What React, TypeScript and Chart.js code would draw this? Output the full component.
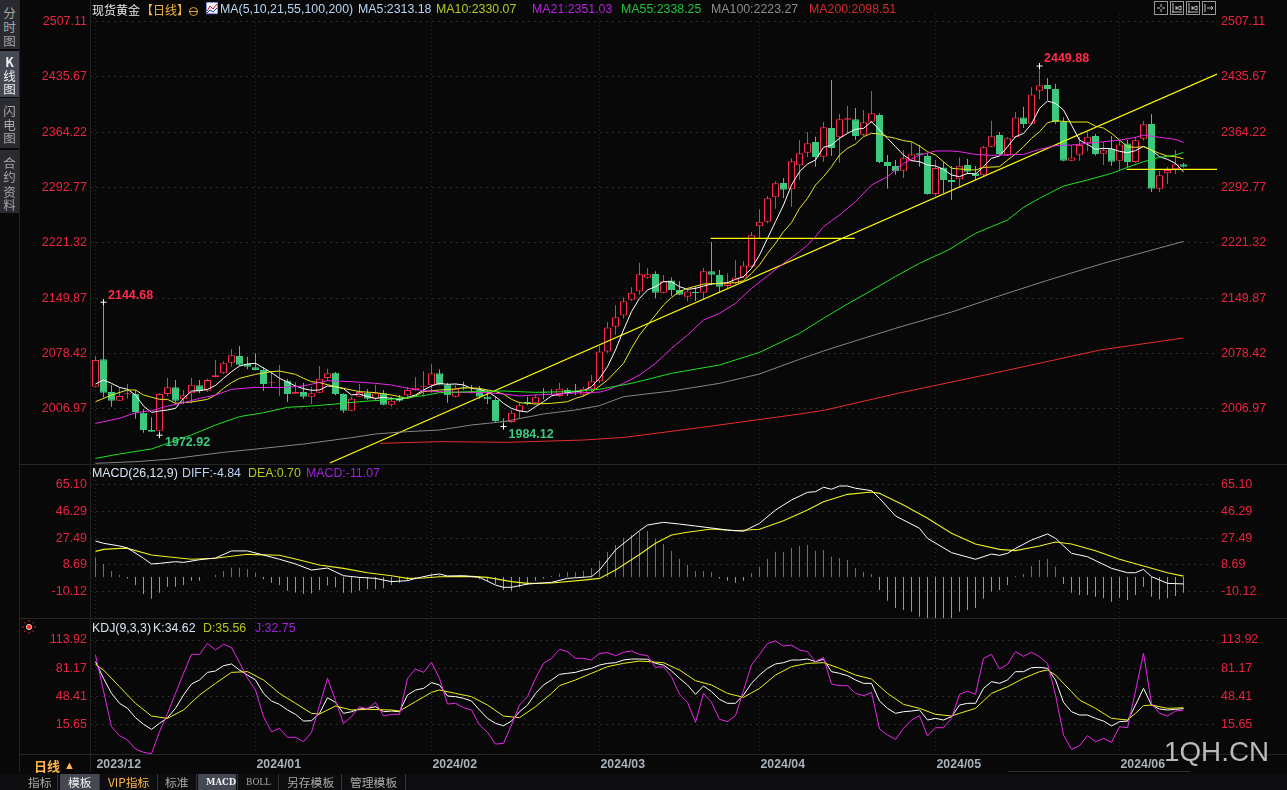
import React, { useEffect, useRef } from "react";
import { Chart, registerables } from "chart.js";

Chart.register(...registerables);

const LATIN = '"Liberation Sans", Arial, sans-serif';
const CJK = '"Noto Sans CJK SC", "Liberation Sans", sans-serif';
const RED = "#ff2b4b";
const GREEN = "#3cc87e";
const AXIS_RED = "#e8243f";
const BG = "#080808";

const monthDays = [0, 20, 42, 63, 83, 105, 128];
const monthLabels = ["2023/12", "2024/01", "2024/02", "2024/03", "2024/04", "2024/05", "2024/06"];
const priceTicks = [2507.11, 2435.67, 2364.22, 2292.77, 2221.32, 2149.87, 2078.42, 2006.97];
const macdTicks = [65.1, 46.29, 27.49, 8.69, -10.12];
const kdjTicks = [113.92, 81.17, 48.41, 15.65];

const open = [
  2035.6, 2070.9, 2028.7, 2017.5, 2026.1, 2026.1, 2002.0, 1979.6, 1978.8, 2026.1,
  2034.7, 2019.2, 2027.0, 2037.3, 2030.4, 2047.7, 2052.8, 2066.6, 2075.2, 2064.9,
  2060.6, 2057.1, 2040.8, 2042.5, 2043.4, 2026.6, 2028.7, 2022.7, 2027.9, 2046.8,
  2053.7, 2026.1, 2004.6, 2022.7, 2027.9, 2020.1, 2027.0, 2012.4, 2020.1, 2024.4,
  2031.3, 2035.6, 2037.3, 2052.8, 2038.2, 2022.7, 2034.3, 2033.0, 2031.3, 2022.7,
  2018.4, 1991.3, 1990.0, 2003.7, 2015.8, 2014.1, 2028.7, 2027.9, 2023.6, 2031.3,
  2030.4, 2025.3, 2032.2, 2042.5, 2081.2, 2113.1, 2127.7, 2148.0, 2158.7, 2176.4,
  2181.1, 2157.0, 2172.9, 2160.5, 2151.9, 2157.9, 2157.0, 2184.6, 2179.9, 2165.6,
  2169.1, 2176.8, 2190.6, 2242.7, 2248.8, 2280.2, 2298.7, 2290.5, 2321.5, 2337.9,
  2351.7, 2332.7, 2369.8, 2357.7, 2380.5, 2381.0, 2361.2, 2377.9, 2386.6, 2325.9,
  2320.7, 2314.7, 2327.6, 2337.0, 2333.6, 2284.5, 2318.9, 2302.6, 2303.5, 2322.0,
  2311.2, 2308.6, 2345.6, 2360.7, 2334.9, 2357.7, 2383.5, 2375.3, 2418.0, 2425.3,
  2420.1, 2377.5, 2327.5, 2335.3, 2350.8, 2359.4, 2336.6, 2343.0, 2327.5, 2349.9,
  2325.8, 2356.0, 2374.9, 2291.4, 2311.2, 2316.4, 2322.8,
];
const close = [
  2070.1, 2027.9, 2017.5, 2023.5, 2027.0, 2002.9, 1979.6, 1977.5, 2026.1, 2034.7,
  2017.5, 2024.4, 2038.2, 2029.6, 2044.2, 2050.2, 2065.8, 2076.1, 2064.0, 2061.4,
  2057.1, 2039.1, 2041.6, 2043.4, 2026.1, 2028.7, 2022.7, 2027.0, 2045.9, 2052.8,
  2026.1, 2004.6, 2020.1, 2028.7, 2020.1, 2027.0, 2012.4, 2017.5, 2017.5, 2031.3,
  2034.3, 2036.9, 2052.8, 2038.2, 2024.4, 2033.0, 2033.0, 2032.2, 2022.7, 2019.2,
  1991.3, 1990.4, 2002.0, 2011.5, 2014.1, 2021.8, 2027.9, 2027.0, 2033.0, 2027.9,
  2028.7, 2033.0, 2042.5, 2081.2, 2112.2, 2125.2, 2145.8, 2157.0, 2180.7, 2180.7,
  2157.0, 2171.7, 2160.5, 2154.4, 2158.7, 2156.2, 2184.6, 2180.3, 2164.8, 2169.1,
  2176.8, 2192.3, 2231.1, 2248.8, 2278.9, 2298.3, 2290.1, 2326.7, 2337.0, 2350.0,
  2332.3, 2370.6, 2343.9, 2381.0, 2382.3, 2359.4, 2377.1, 2388.7, 2325.9, 2320.7,
  2313.8, 2330.6, 2335.8, 2335.3, 2284.5, 2318.1, 2302.6, 2300.0, 2321.1, 2313.4,
  2307.8, 2344.8, 2359.0, 2336.1, 2356.4, 2383.5, 2374.9, 2413.2, 2424.9, 2420.1,
  2377.5, 2327.5, 2331.8, 2347.8, 2358.5, 2336.1, 2340.9, 2326.2, 2348.6, 2325.8,
  2353.8, 2374.5, 2291.4, 2308.6, 2315.5, 2322.8, 2319.8,
];
const high = [
  2075.2, 2144.68, 2037.8, 2034.7, 2039.1, 2031.3, 2006.3, 1996.0, 2027.0, 2046.8,
  2044.2, 2031.3, 2046.8, 2044.2, 2045.9, 2070.1, 2068.3, 2083.8, 2088.1, 2074.4,
  2078.7, 2060.6, 2055.0, 2063.6, 2045.9, 2041.6, 2040.8, 2035.6, 2062.3, 2058.9,
  2054.6, 2027.0, 2022.7, 2039.1, 2032.2, 2037.8, 2031.3, 2022.7, 2024.9, 2035.6,
  2047.7, 2055.4, 2064.9, 2058.0, 2040.8, 2037.8, 2042.1, 2037.8, 2036.5, 2031.3,
  2022.7, 1994.7, 2005.5, 2016.2, 2022.7, 2024.9, 2033.5, 2032.2, 2040.8, 2033.5,
  2039.1, 2035.6, 2050.7, 2088.1, 2119.1, 2140.7, 2151.0, 2163.9, 2195.8, 2188.9,
  2184.6, 2179.9, 2176.8, 2171.7, 2162.6, 2164.8, 2188.9, 2222.5, 2186.3, 2182.0,
  2199.2, 2197.5, 2235.4, 2264.7, 2281.9, 2300.9, 2305.2, 2330.6, 2354.3, 2364.6,
  2358.6, 2377.5, 2431.8, 2387.9, 2398.2, 2395.6, 2393.0, 2417.6, 2388.7, 2334.9,
  2328.4, 2341.4, 2351.7, 2347.8, 2337.0, 2328.4, 2326.3, 2320.7, 2331.9, 2330.2,
  2320.7, 2346.5, 2379.2, 2364.6, 2357.7, 2390.4, 2397.3, 2422.3, 2449.88, 2434.3,
  2426.6, 2383.5, 2347.4, 2358.5, 2364.6, 2362.0, 2351.7, 2359.4, 2354.2, 2354.2,
  2358.5, 2378.8, 2387.8, 2314.6, 2319.8, 2341.3, 2324.9,
];
const low = [
  2034.7, 2021.8, 2009.8, 2017.5, 2020.1, 1994.3, 1976.2, 1977.5, 1972.92, 2023.5,
  2014.9, 2013.2, 2014.1, 2027.0, 2028.7, 2047.7, 2052.0, 2061.4, 2062.3, 2058.0,
  2057.1, 2030.4, 2035.6, 2023.5, 2015.8, 2026.1, 2020.1, 2013.2, 2027.0, 2043.4,
  2024.4, 2002.0, 2003.7, 2021.8, 2018.4, 2018.4, 2011.5, 2009.8, 2015.8, 2020.1,
  2030.4, 2022.7, 2027.9, 2037.3, 2014.9, 2021.8, 2031.3, 2027.0, 2020.1, 2013.2,
  1989.1, 1984.12, 1989.1, 1995.1, 2011.5, 2013.2, 2019.2, 2024.9, 2022.7, 2023.6,
  2024.9, 2022.7, 2027.0, 2039.9, 2079.5, 2102.3, 2123.4, 2146.7, 2154.4, 2175.1,
  2150.1, 2156.2, 2152.7, 2153.6, 2145.8, 2146.3, 2148.4, 2166.5, 2157.0, 2163.1,
  2168.2, 2176.0, 2189.8, 2227.2, 2246.6, 2265.6, 2279.3, 2268.2, 2302.6, 2331.9,
  2319.8, 2326.3, 2333.6, 2325.0, 2362.9, 2354.3, 2359.4, 2376.7, 2324.1, 2291.4,
  2309.5, 2305.2, 2326.7, 2319.8, 2283.7, 2281.9, 2285.4, 2276.8, 2293.1, 2310.4,
  2302.6, 2307.7, 2344.8, 2333.6, 2333.6, 2356.8, 2369.7, 2374.9, 2406.8, 2405.9,
  2374.9, 2326.7, 2326.7, 2327.5, 2339.6, 2334.4, 2322.0, 2320.6, 2315.5, 2318.9,
  2325.0, 2353.4, 2287.1, 2287.1, 2297.4, 2310.3, 2318.9,
];

const ma5 = [
  2039.1, 2044.2, 2039.9, 2034.7, 2032.2, 2024.8, 2010.6, 2002.4, 2004.2, 2005.5,
  2007.6, 2020.5, 2030.0, 2030.4, 2032.2, 2037.3, 2046.4, 2055.0, 2062.3, 2064.9,
  2065.8, 2059.7, 2053.7, 2046.4, 2041.6, 2036.5, 2033.0, 2030.9, 2031.3, 2036.5,
  2035.6, 2033.0, 2024.9, 2026.1, 2022.7, 2020.5, 2021.8, 2020.5, 2019.3, 2021.8,
  2024.9, 2031.3, 2036.5, 2039.9, 2038.6, 2039.1, 2037.8, 2033.5, 2032.2, 2029.2,
  2022.7, 2014.1, 2007.6, 2004.2, 2002.9, 2009.8, 2016.2, 2023.6, 2026.1, 2027.9,
  2029.2, 2030.4, 2035.6, 2046.4, 2061.4, 2083.0, 2108.8, 2132.5, 2149.7, 2160.5,
  2164.8, 2171.2, 2171.2, 2164.8, 2161.3, 2162.6, 2165.6, 2168.2, 2169.1, 2169.9,
  2174.2, 2177.7, 2188.5, 2205.7, 2227.2, 2248.8, 2270.3, 2296.1, 2313.4, 2323.3,
  2328.4, 2344.8, 2347.8, 2356.4, 2362.9, 2368.1, 2369.3, 2378.0, 2367.2, 2356.4,
  2345.7, 2334.9, 2327.6, 2326.3, 2322.0, 2320.7, 2316.4, 2309.1, 2306.9, 2311.2,
  2310.3, 2319.8, 2330.6, 2333.6, 2345.6, 2358.5, 2362.8, 2374.9, 2395.1, 2404.6,
  2401.6, 2393.0, 2373.6, 2354.2, 2348.6, 2342.2, 2343.5, 2343.0, 2339.6, 2337.9,
  2340.5, 2346.1, 2341.3, 2332.7, 2329.3, 2324.1, 2313.18,
];

const ma10 = [
  [0, 2016.2], [2, 2024.8], [4, 2031.3], [5, 2031.3], [6, 2024.8], [8, 2019.2], [9, 2019.2], [10, 2014.1],
  [12, 2015.8], [14, 2019.2], [15, 2024.8], [16, 2033.5], [17, 2040.8], [18, 2046.4], [20, 2051.5], [22, 2055.0],
  [23, 2055.8], [24, 2053.7], [25, 2051.5], [26, 2046.4], [27, 2042.1], [28, 2040.8], [30, 2035.6], [31, 2033.5],
  [33, 2029.2], [35, 2027.9], [37, 2024.9], [39, 2020.5], [40, 2023.6], [41, 2029.2], [43, 2031.3], [45, 2032.6],
  [46, 2034.3], [48, 2033.5], [50, 2029.2], [51, 2026.1], [52, 2019.3], [53, 2014.9], [55, 2013.2], [57, 2014.1],
  [59, 2016.2], [60, 2020.5], [61, 2023.6], [62, 2028.5], [64, 2044.2], [66, 2065.7], [67, 2085.1], [68, 2102.3],
  [70, 2128.2], [71, 2141.1], [72, 2151.0], [73, 2158.3], [74, 2162.6], [76, 2168.2], [78, 2169.1], [80, 2169.9],
  [81, 2172.5], [82, 2182.0], [83, 2192.8], [84, 2207.8], [85, 2220.8], [86, 2235.8], [87, 2247.5], [88, 2266.0],
  [89, 2278.9], [90, 2296.1], [91, 2306.9], [92, 2319.8], [93, 2334.9], [94, 2343.5], [95, 2349.1], [96, 2358.6],
  [97, 2362.9], [98, 2362.0], [99, 2358.6], [100, 2356.4], [101, 2353.4], [102, 2352.1], [103, 2346.5], [104, 2339.2],
  [105, 2334.9], [106, 2326.3], [107, 2317.7], [108, 2316.8], [110, 2315.5], [111, 2318.9], [113, 2319.8], [114, 2328.4],
  [115, 2336.2], [116, 2345.6], [117, 2356.4], [118, 2365.0], [119, 2376.6], [120, 2379.2], [122, 2377.5], [124, 2377.5],
  [125, 2372.3], [126, 2369.7], [127, 2362.9], [128, 2354.2], [129, 2345.6], [130, 2344.8], [131, 2345.6], [132, 2341.3],
  [133, 2337.0], [134, 2333.6], [135, 2332.7], [136, 2330.07],
];
const ma21 = [
  [0, 1988.2], [3, 1994.7], [5, 2002.0], [7, 2004.6], [9, 2010.6], [11, 2014.9], [13, 2020.5], [15, 2024.8],
  [17, 2032.2], [20, 2034.7], [23, 2034.3], [26, 2036.5], [29, 2043.4], [32, 2042.1], [35, 2039.9], [37, 2037.8],
  [39, 2033.5], [41, 2030.4], [43, 2029.2], [45, 2028.3], [47, 2027.9], [49, 2027.9], [51, 2026.1], [53, 2023.6],
  [55, 2024.9], [57, 2025.7], [59, 2027.0], [61, 2027.9], [63, 2028.5], [64, 2031.3], [66, 2039.9], [68, 2050.7],
  [70, 2065.7], [72, 2085.1], [74, 2102.3], [76, 2121.7], [78, 2130.3], [80, 2143.2], [82, 2162.6], [84, 2178.6],
  [86, 2194.9], [88, 2210.0], [89, 2218.6], [90, 2229.4], [91, 2242.3], [92, 2250.0], [93, 2257.4], [95, 2274.6],
  [97, 2296.1], [99, 2306.9], [101, 2324.1], [103, 2334.9], [105, 2340.1], [107, 2340.1], [108, 2339.2], [110, 2335.7],
  [112, 2334.4], [114, 2334.9], [116, 2335.7], [118, 2342.2], [120, 2346.9], [122, 2347.8], [124, 2349.9], [126, 2352.1],
  [128, 2354.2], [130, 2357.7], [131, 2360.7], [133, 2357.7], [135, 2355.1], [136, 2351.03],
];
const ma55 = [
  [0, 1943.0], [3, 1948.6], [7, 1955.1], [9, 1962.4], [12, 1973.2], [15, 1986.1], [18, 1996.9], [21, 2002.0],
  [24, 2008.9], [27, 2010.6], [30, 2013.2], [33, 2016.2], [36, 2018.4], [41, 2024.0], [43, 2027.9], [47, 2029.2],
  [51, 2030.0], [55, 2028.3], [59, 2029.2], [63, 2032.2], [67, 2039.9], [72, 2052.8], [78, 2063.6], [83, 2079.9],
  [88, 2104.5], [91, 2123.9], [94, 2142.4], [97, 2160.0], [100, 2178.0], [103, 2195.0], [106.6, 2212.2], [110, 2233.7],
  [114, 2250.9], [116, 2267.3], [118, 2278.9], [121, 2294.8], [124, 2302.6], [127, 2311.2], [129, 2318.9], [131, 2326.3],
  [133, 2331.8], [135, 2334.9], [136, 2338.25],
];
const ma100 = [
  [0, 1936.6], [5, 1938.7], [9, 1941.7], [16, 1950.8], [21, 1956.0], [26, 1961.5], [32, 1969.7], [35, 1974.5],
  [39, 1977.5], [43, 1979.6], [47, 1986.1], [51, 1990.4], [56, 2000.3], [60, 2005.5], [63, 2011.1], [66, 2022.7],
  [72, 2030.0], [78, 2039.9], [83, 2052.0], [88, 2070.9], [91, 2081.7], [94, 2091.6], [100, 2111.0], [107, 2132.0],
  [113, 2153.0], [119, 2173.0], [126, 2195.0], [136, 2223.27],
];
const ma200 = [
  [35.6, 1962.4], [43, 1964.6], [51.5, 1963.7], [61, 1966.7], [66, 1970.0], [75.5, 1982.6], [88, 2000.2], [91.2, 2005.4],
  [100.5, 2027.5], [113, 2054.6], [125.6, 2083.0], [136, 2098.51],
];
const trendRise = [[29.3, 1937.0], [140.19, 2439.5]];
const levelUpper = [[76.9, 2227.3], [94.9, 2227.3]];
const levelLower = [[128.9, 2316.3], [140.19, 2316.3]];

const extremes = [
  { x: 1, y: 2144.68, text: "2144.68", color: RED, dx: 4.5, dy: -7 },
  { x: 8, y: 1972.92, text: "1972.92", color: GREEN, dx: 5.5, dy: 7 },
  { x: 51, y: 1984.12, text: "1984.12", color: GREEN, dx: 5, dy: 8.5 },
  { x: 118, y: 2449.88, text: "2449.88", color: RED, dx: 4.5, dy: -7 },
];

const macdHist = [
  13.8, 9.3, 4.3, 1.5, -0.9, -5.6, -12, -15.3, -11, -6.8,
  -6.8, -5.6, -2.5, -2.5, 0.3, 1.5, 4.3, 6.7, 6.7, 5.5,
  3.1, -1.6, -4, -5.6, -9.6, -10.8, -11.7, -11.5, -9.1, -6,
  -7.2, -11, -11, -9.6, -8.6, -8.6, -7.9, -5.6, -4, -2.5,
  -1.6, 0.3, 2.6, 1.5, 0.3, 0.3, 0.3, 0.8, -1.6, -2.5,
  -4.9, -9.1, -9.6, -7.2, -5.6, -2.5, -0.9, 0.8, 2.6, 3.5,
  3.5, 4.5, 6.2, 11.6, 18, 22.7, 27.9, 29.8, 32.1, 32.6,
  26.9, 23.4, 18.5, 13.0, 8.6, 4.3, 4.3, 3.6, -0.9, -2.5,
  -3.9, -2.5, 2.7, 7.4, 12.8, 18.0, 17.7, 20.8, 22.0, 22.7,
  18.7, 19.2, 14.4, 13.5, 12.1, 6.4, 3.8, 2.2, -9.1, -16.7,
  -21.9, -23.3, -24.4, -28, -30.3, -31.3, -30.3, -29.4, -24.4, -23.3,
  -21.9, -15.3, -10.1, -9.1, -5.6, 0.8, 2.2, 7.8, 12.1, 12.8,
  7.4, -4.9, -11, -12.7, -12.7, -13.8, -15, -17.4, -14.8, -16.2,
  -12.7, -6.8, -13.8, -15.7, -15, -13.4, -11.07,
];
const diff = [
  [0, 25.5], [1, 23.9], [3, 22.0], [4, 20.6], [6, 13.3], [7, 9.3], [8, 9.7], [10, 10.9], [11, 10.4], [13, 12.3],
  [15, 13.5], [17, 18.5], [19, 18.5], [21, 15.6], [23, 12.6], [25, 9.3], [27, 5.0], [29, 6.4], [31, 1.0], [33, -0.2],
  [35, -0.9], [37, -3.2], [39, -2.5], [40, -0.9], [42, 1.5], [43, 2.2], [44, 0.8], [46, 1.0], [48, -0.2], [50, -5.6],
  [51, -7.2], [52, -7.2], [54, -4.9], [57, -3.7], [59, -0.9], [62, 0.3], [63, 5.0], [65, 19.2], [68, 32.8], [69, 36.8],
  [71, 38.7], [73, 37.5], [75, 36.1], [77, 34.7], [79, 33.3], [81, 32.4], [83, 38.0], [85, 47.4], [87, 54.5], [89, 59.9],
  [90, 60.4], [91, 63.5], [92, 62.1], [93, 64.4], [94, 64.4], [95, 62.8], [97, 61.1], [98, 55.7], [100, 43.2], [103, 34.5],
  [104, 27.4], [107, 17.3], [110, 12.6], [112, 16.3], [113, 15.4], [114, 16.8], [115, 20.3], [117, 26.2], [119, 30.5], [120, 27.4],
  [122, 16.8], [124, 14.4], [127, 6.2], [129, 3.1], [130, 3.1], [131, 5.5], [132, 0.3], [134, -4.4], [135, -4.6], [136, -4.84],
];
const dea = [
  [0, 18.2], [1, 19.6], [3, 20.3], [4, 20.3], [7, 15.6], [9, 14.4], [12, 12.6], [15, 13.3], [19, 16.1], [23, 15.4],
  [25, 12.8], [28, 8.6], [31, 6.2], [34, 3.1], [37, 1.0], [39, -0.9], [41, -0.6], [43, 0.3], [47, 0.5], [49, -0.2],
  [52, -3.2], [54, -4.4], [57, -4.2], [61, -2.1], [63, -0.9], [65, 5.0], [68, 16.0], [70, 23.9], [72, 29.8], [74, 31.7],
  [77, 34.0], [80, 32.8], [83, 33.8], [86, 39.9], [89, 47.5], [91, 53.3], [94, 58.5], [97, 60.2], [98, 59.2], [101, 51.0],
  [104, 41.6], [107, 31.0], [110, 23.4], [113, 19.6], [115, 18.7], [118, 22.0], [120, 24.8], [122, 23.4], [125, 18.7], [128, 12.6],
  [131, 7.8], [134, 3.1], [136, 0.7],
];

const kdjK = [
  88.9, 69.6, 52.2, 40.7, 34.9, 24.1, 16.4, 10.6, 17.5, 24.1,
  34.9, 50.3, 63.0, 67.7, 76.5, 78.1, 84.2, 86.2, 79.2, 73.4,
  67.7, 52.2, 43.4, 39.5, 33.0, 28.0, 20.2, 20.6, 29.1, 47.2,
  41.8, 29.1, 31.0, 34.1, 34.9, 36.8, 31.0, 31.8, 31.0, 50.3,
  56.1, 58.0, 64.6, 61.9, 49.1, 48.4, 46.5, 43.4, 33.0, 23.3,
  17.5, 14.8, 20.2, 31.0, 38.7, 52.2, 61.9, 67.7, 74.2, 75.4,
  76.5, 79.2, 81.2, 85.0, 86.9, 87.7, 90.8, 91.9, 91.9, 91.6,
  86.9, 85.0, 78.1, 69.6, 61.9, 51.1, 60.7, 54.2, 45.3, 40.7,
  40.7, 50.3, 63.8, 73.4, 81.2, 86.2, 87.7, 90.8, 90.8, 91.9,
  88.9, 91.6, 77.3, 75.4, 72.7, 67.7, 63.8, 63.8, 43.4, 34.9,
  29.1, 31.0, 31.8, 33.0, 21.4, 23.3, 21.4, 25.3, 38.7, 40.7,
  40.7, 58.0, 65.7, 63.8, 67.7, 77.3, 77.3, 81.9, 82.3, 81.2,
  67.7, 41.8, 31.0, 27.2, 27.2, 23.3, 20.2, 14.5, 19.5, 20.2,
  38.7, 58.0, 38.7, 34.1, 33.0, 33.7, 34.62,
];
const kdjD = [
  [0, 85.8], [1, 79.2], [3, 59.9], [5, 40.7], [7, 26], [9, 23.3], [11, 33], [13, 50.3], [15, 63.8], [17, 76.5],
  [19, 77.3], [21, 67.7], [23, 52.2], [25, 40.7], [27, 29.1], [28, 28.3], [30, 37.6], [32, 33], [34, 33.7], [37, 33],
  [38, 31.8], [40, 42.6], [42, 53.4], [43, 56.1], [45, 52.2], [47, 48.4], [49, 38.7], [51, 26], [53, 24.1], [55, 36.8],
  [57, 52.2], [58, 61.1], [60, 67.7], [62, 75.4], [64, 83.1], [66, 86.9], [68, 89.6], [71, 87.7], [73, 79.2], [75, 66.9],
  [77, 61.9], [79, 52.2], [81, 47.6], [83, 58], [85, 73.4], [87, 83.1], [89, 86.9], [91, 87.7], [93, 81.2], [95, 73.4],
  [97, 68.8], [99, 52.2], [101, 39.5], [103, 34.9], [105, 28], [107, 26], [108, 29.1], [110, 34.9], [112, 52.2], [114, 59.9],
  [116, 69.6], [118, 77.3], [119, 79.2], [120, 73.4], [122, 54.2], [123, 44.5], [125, 34.9], [127, 23.3], [129, 21.4], [130, 29.1],
  [131, 38], [132, 38.7], [134, 34.9], [136, 35.56],
];
const kdjJ = [
  96.6, 55.0, 13.7, 3.3, -1.7, -12.2, -16, -17.5, 7.9, 29.1,
  52.2, 75.4, 97.3, 97.3, 110, 102.4, 108.9, 105.1, 88.0, 69.6,
  56.1, 25.3, 7.9, 11.8, 1.4, 1.4, -3.7, 7.1, 38.0, 69.6,
  44.0, 17.5, 25.3, 36.8, 34.1, 41.8, 26, 28, 28, 69.6,
  80.4, 76.5, 88.1, 69.6, 39.9, 40.7, 35.7, 33, 15.6, 7.1,
  -6.4, -5.6, 15.6, 38.7, 48.4, 69.6, 86.9, 92.7, 103.1, 100.4,
  92.7, 92.7, 90.8, 98.5, 99.3, 95.8, 99.7, 101.2, 97.3, 95.8,
  82.3, 83.1, 71.5, 51.1, 41.8, 18.7, 52.2, 41.8, 22.2, 19.5,
  26.4, 55.7, 85, 97.3, 110, 112.8, 107, 108.1, 102.4, 100.4,
  88.9, 93.9, 63, 61.1, 61.1, 52.2, 49.5, 53.4, 11, 4,
  -1, 11.8, 21.4, 26.4, 2.9, 12.5, 12.5, 23.3, 51.1, 54.9,
  51.1, 92.7, 97.3, 80.4, 85.8, 100.4, 95, 99.7, 94.6, 86.9,
  50.3, 4, -12.5, -8.3, 3.3, -3.7, 0.2, -4.4, 13.7, 12.5,
  54.9, 98.5, 40.7, 29.1, 26, 31.8, 32.75,
];

const days = open.map((_, i) => i);
const series = (values: number[]) => values.map((y, x) => ({ x, y }));
const pairs = (values: number[][]) => values.map(([x, y]) => ({ x, y }));
const line = (label: string, data: any[], color: string, width = 1) => ({
  type: "line", label, data, borderColor: color, borderWidth: width, pointRadius: 0, tension: 0, fill: false, order: 0,
});

const annotationPlugin = {
  id: "extremeLabels",
  afterDatasetsDraw(chart: any) {
    const { ctx, scales } = chart;
    ctx.save();
    ctx.font = `bold 12.5px ${LATIN}`;
    ctx.textBaseline = "middle";
    ctx.textAlign = "left";
    extremes.forEach((e) => {
      ctx.fillStyle = e.color;
      ctx.fillText(e.text, scales.x.getPixelForValue(e.x) + e.dx, scales.y.getPixelForValue(e.y) + e.dy);
    });
    ctx.restore();
  },
};

const noVerticalPadding = (s: any) => { s.paddingTop = 0; s.paddingBottom = 0; };

function buildPanel(canvas: HTMLCanvasElement, cfg: any) {
  const fontY = { family: LATIN, size: 12.5 };
  const yBase = (ticksList: number[]) => ({
    min: cfg.min,
    max: cfg.max,
    afterBuildTicks: (s: any) => { s.ticks = ticksList.map((value) => ({ value })); },
    ticks: { color: AXIS_RED, font: fontY, autoSkip: false, callback: (v: any) => Number(v).toFixed(2) },
  });
  return new Chart(canvas, {
    type: "line",
    data: { datasets: cfg.datasets },
    plugins: cfg.plugins || [],
    options: {
      responsive: false,
      animation: false,
      events: [],
      layout: { autoPadding: false, padding: { top: cfg.top || 0, left: 0, right: 0, bottom: 0 } },
      plugins: { legend: { display: false }, tooltip: { enabled: false }, title: { display: false } },
      scales: {
        x: {
          type: "linear",
          offset: false,
          min: -0.6875,
          max: 140.1875,
          grid: { color: "#2c2c2c", offset: false, drawTicks: false },
          border: { display: false, dash: [1, 3] },
          afterBuildTicks: (s: any) => { s.ticks = monthDays.map((value) => ({ value })); },
          afterFit: (s: any) => { s.height = cfg.xLabels ? 18 : 0; s.paddingLeft = 0; s.paddingRight = 0; },
          ticks: {
            display: !!cfg.xLabels,
            autoSkip: false,
            maxRotation: 0,
            align: "start",
            padding: 3,
            color: "#a9b2ba",
            font: { family: LATIN, size: 12.3, weight: "bold" },
            callback: (v: any) => (monthLabels[monthDays.indexOf(v)] ? "\u200a" + monthLabels[monthDays.indexOf(v)] : ""),
          },
        },
        y: {
          ...yBase(cfg.yTicks),
          position: "left",
          afterFit: (s: any) => { s.width = 90; noVerticalPadding(s); },
          grid: { color: "#2c2c2c", drawTicks: false },
          border: { display: false, dash: [2, 4] },
          ticks: { ...yBase(cfg.yTicks).ticks, padding: 3 },
        },
        yr: {
          ...yBase(cfg.yTicks),
          position: "right",
          afterFit: (s: any) => { s.width = 70; noVerticalPadding(s); },
          grid: { display: false, drawTicks: false },
          border: { display: false },
          ticks: { ...yBase(cfg.yTicks).ticks, padding: 4 },
        },
      },
    },
  } as any);
}

const T = ({ x, y, color = "#c8c8c8", size = 12.35, font = LATIN, weight = 400, children }: any) => (
  <span style={{ position: "absolute", left: x, top: y, transform: "translateY(-50%)", color, fontSize: size, fontFamily: font, fontWeight: weight, whiteSpace: "nowrap", lineHeight: 1 }}>
    {children}
  </span>
);
const Box = ({ x, y, w, h, bg }: any) => (
  <div style={{ position: "absolute", left: x, top: y, width: w, height: h, background: bg }} />
);

const sideCells = [
  { y: 0, h: 49, bg: "#2a2b30", chars: [["分", 13], ["时", 27], ["图", 41]], color: "#a8a8a8" },
  { y: 51, h: 46, bg: "#444853", chars: [["K", 62], ["线", 76], ["图", 89]], color: "#f0f0f0" },
  { y: 98, h: 50, bg: "#2a2b30", chars: [["闪", 111], ["电", 125], ["图", 138]], color: "#a8a8a8" },
  { y: 150, h: 63, bg: "#2a2b30", chars: [["合", 163], ["约", 177], ["资", 192], ["料", 205]], color: "#a8a8a8" },
];
const tabs = [
  { t: "指标", x: 28, c: "#a8a8a8" },
  { t: "模板", x: 68, c: "#f0f0f0", sel: [60, 39] },
  { t: "VIP指标", x: 108, c: "#ffb84d" },
  { t: "标准", x: 165, c: "#a8a8a8" },
  { t: "MACD", x: 206, c: "#f0f0f0", sel: [198, 38], small: true, bold: true },
  { t: "BOLL", x: 246, c: "#a8a8a8", small: true },
  { t: "另存模板", x: 287, c: "#a8a8a8" },
  { t: "管理模板", x: 350, c: "#a8a8a8" },
];
const tabSeparators = [57, 99, 157, 196, 237, 278, 341, 405];
const headerItems = [
  { t: "MA(5,10,21,55,100,200)", x: 220, c: "#b9d4f2" },
  { t: "MA5:2313.18", x: 358, c: "#b9d4f2" },
  { t: "MA10:2330.07", x: 436, c: "#b8c81e" },
  { t: "MA21:2351.03", x: 532, c: "#b81fe0" },
  { t: "MA55:2338.25", x: 621, c: "#22c03c" },
  { t: "MA100:2223.27", x: 711, c: "#8c8c8c" },
  { t: "MA200:2098.51", x: 809, c: "#d02c2c" },
];
const macdItems = [
  { t: "MACD(26,12,9)", x: 92, c: "#d8e4f2" },
  { t: "DIFF:-4.84", x: 182, c: "#b9d4f2" },
  { t: "DEA:0.70", x: 248, c: "#b8c81e" },
  { t: "MACD:-11.07", x: 306, c: "#a020e0" },
];
const kdjItems = [
  { t: "KDJ(9,3,3)", x: 92, c: "#d8e4f2" },
  { t: "K:34.62", x: 153, c: "#d8e4f2" },
  { t: "D:35.56", x: 203, c: "#b8c81e" },
  { t: "J:32.75", x: 255, c: "#a020e0" },
];
const toolIconX = [1154, 1170, 1186, 1202];

export default function App() {
  const mainRef = useRef<HTMLCanvasElement>(null);
  const macdRef = useRef<HTMLCanvasElement>(null);
  const kdjRef = useRef<HTMLCanvasElement>(null);

  useEffect(() => {
    const candleColor = days.map((i) => (close[i] >= open[i] ? RED : GREEN));
    const main = buildPanel(mainRef.current!, {
      top: 14,
      min: 1935.7,
      max: 2517.06,
      yTicks: priceTicks,
      plugins: [annotationPlugin],
      datasets: [
        {
          type: "bar", label: "wick", order: 3, grouped: false, barThickness: 1, borderWidth: 0, inflateAmount: 0,
          backgroundColor: candleColor,
          data: days.map((i) => ({ x: i, y: [low[i], high[i]] })),
        },
        {
          type: "bar", label: "body", order: 2, grouped: false, barThickness: 7, borderWidth: 1, inflateAmount: 0, borderSkipped: false,
          borderColor: candleColor,
          backgroundColor: days.map((i) => (close[i] >= open[i] ? BG : GREEN)),
          data: days.map((i) => ({ x: i, y: [Math.min(open[i], close[i]), Math.max(open[i], close[i])] })),
        },
        line("MA200", pairs(ma200), "#e82c2c"),
        line("MA100", pairs(ma100), "#868686"),
        line("MA55", pairs(ma55), "#22e022"),
        line("MA21", pairs(ma21), "#e828e8"),
        line("MA10", pairs(ma10), "#e8e820"),
        line("MA5", series(ma5), "#ffffff"),
        line("trend", pairs(trendRise), "#ffff00", 1.3),
        line("upper", pairs(levelUpper), "#ffff00", 1.2),
        line("lower", pairs(levelLower), "#ffff00", 1.2),
        {
          type: "line", label: "extremes", showLine: false, order: 0, pointStyle: "cross", pointRadius: 3,
          pointBorderColor: "#ffffff", pointBorderWidth: 1, data: extremes.map((e) => ({ x: e.x, y: e.y })),
        },
      ],
    });
    const macd = buildPanel(macdRef.current!, {
      min: -28.9,
      max: 79.94,
      yTicks: macdTicks,
      datasets: [
        {
          type: "bar", label: "MACD", order: 2, grouped: false, barThickness: 1, borderWidth: 0, inflateAmount: 0,
          backgroundColor: macdHist.map((v) => (v >= 0 ? RED : GREEN)),
          data: series(macdHist),
        },
        line("DIFF", pairs(diff), "#ffffff"),
        line("DEA", pairs(dea), "#f0f020", 1.1),
      ],
    });
    const kdj = buildPanel(kdjRef.current!, {
      min: -17.9,
      max: 139.36,
      yTicks: kdjTicks,
      xLabels: true,
      datasets: [
        line("J", series(kdjJ), "#e828e8"),
        line("D", pairs(kdjD), "#f0f020"),
        line("K", series(kdjK), "#ffffff"),
      ],
    });
    return () => { main.destroy(); macd.destroy(); kdj.destroy(); };
  }, []);

  const canvasStyle = (top: number): React.CSSProperties => ({ position: "absolute", left: 0, top, display: "block" });

  return (
    <div style={{ position: "absolute", left: 0, top: 0, width: 1287, height: 790, background: BG, overflow: "hidden" }}>
      <canvas ref={mainRef} width={1287} height={464} style={canvasStyle(0)} />
      <canvas ref={macdRef} width={1287} height={154} style={canvasStyle(464)} />
      <canvas ref={kdjRef} width={1287} height={154} style={canvasStyle(618)} />

      <Box x={90} y={0} w={1} h={772} bg="#232323" />
      <Box x={19} y={0} w={1} h={772} bg="#232323" />
      <Box x={20} y={464} w={1267} h={1} bg="#262626" />
      <Box x={20} y={618} w={1267} h={1} bg="#262626" />
      <Box x={20} y={754} w={1267} h={1} bg="#262626" />
      <Box x={1008} y={771} w={182} h={1} bg="#2e2e2e" />

      {sideCells.map((c, i) => (
        <React.Fragment key={i}>
          <Box x={0} y={c.y} w={19} h={c.h} bg={c.bg} />
          {c.chars.map(([ch, y]: any, k: number) => (
            <span key={k} style={{ position: "absolute", left: 0, width: 19, top: y, transform: "translateY(-50%)", textAlign: "center", color: c.color, fontFamily: CJK, fontSize: 12.5, lineHeight: 1, fontWeight: ch === "K" ? 700 : 400 }}>{ch}</span>
          ))}
        </React.Fragment>
      ))}

      <T x={92} y={10} color="#e8e8e8" font={CJK} size={12}>现货黄金</T>
      <T x={141} y={10} color="#f2b24a" font={CJK} size={12}>【日线】</T>
      <svg style={{ position: "absolute", left: 188, top: 6 }} width={11} height={11}>
        <circle cx={5.5} cy={5.5} r={4} fill="none" stroke="#d9a23e" />
        <line x1={1} y1={5.5} x2={10} y2={5.5} stroke="#d9a23e" />
      </svg>
      <svg style={{ position: "absolute", left: 206, top: 2 }} width={12} height={13}>
        <rect x={0} y={0} width={12} height={12} fill="#f4f6ff" stroke="#2030a0" />
        <polyline points="1,9 4,4 7,7 11,2" fill="none" stroke="#e02020" />
        <polyline points="1,11 4,8 7,10 11,6" fill="none" stroke="#2030c0" />
      </svg>
      {headerItems.map((h) => <T key={h.t} x={h.x} y={9} color={h.c}>{h.t}</T>)}
      {toolIconX.map((x, i) => (
        <svg key={x} style={{ position: "absolute", left: x, top: 1 }} width={14} height={14}>
          <rect x={0.5} y={0.5} width={13} height={13} fill="none" stroke="#9a9a9a" />
          {i === 0 ? (
            <path d="M7 3v3M7 8v3M3 7h3M8 7h3" stroke="#c0c0c0" />
          ) : (
            <path d={i === 3 ? "M3 3v8M5 7h6M9 5l2 2-2 2" : "M3 2v10M2 11h10M6 5v4M6 7l5-2v4z"} stroke="#c0c0c0" fill="none" />
          )}
        </svg>
      ))}

      {macdItems.map((h) => <T key={h.t} x={h.x} y={473} color={h.c}>{h.t}</T>)}
      {kdjItems.map((h) => <T key={h.t} x={h.x} y={628} color={h.c}>{h.t}</T>)}
      <svg style={{ position: "absolute", left: 22, top: 620 }} width={14} height={14}>
        <circle cx={7} cy={7} r={2.6} fill="#ff2020" stroke="#ffffff" strokeWidth={0.8} />
        <path d="M7 0v2M7 12v2M0 7h2M12 7h2M2 2l1.4 1.4M12 2l-1.4 1.4M2 12l1.4-1.4M12 12l-1.4-1.4" stroke="#e02020" />
      </svg>

      <T x={34} y={765} color="#ffb54d" font={CJK} size={13} weight={700}>日线</T>
      <T x={64} y={765} color="#ffb54d" size={11}>▲</T>

      <Box x={0} y={774} w={1287} h={16} bg="#0d0d0f" />
      {tabs.filter((t) => t.sel).map((t: any) => <Box key={t.t} x={t.sel[0]} y={774} w={t.sel[1]} h={16} bg="#444853" />)}
      {tabSeparators.map((x) => <Box key={x} x={x} y={774} w={1} h={16} bg="#333333" />)}
      {tabs.map((t: any) => (
        <T key={t.t} x={t.x} y={782} color={t.c} font={t.small ? '"DejaVu Serif", serif' : CJK} size={t.small ? 8.5 : 11.8} weight={t.bold ? 700 : 400}>{t.t}</T>
      ))}

      <T x={1164} y={752} color="#b9b9b9" size={27.8}>1QH.CN</T>
    </div>
  );
}
